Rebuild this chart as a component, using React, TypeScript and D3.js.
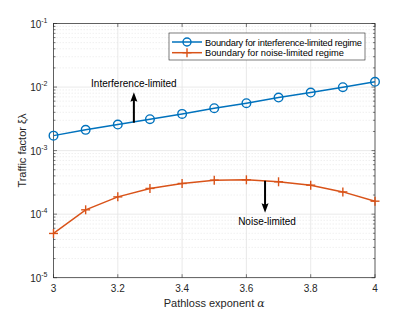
import * as d3 from 'd3';

const alphas = [3, 3.1, 3.2, 3.3, 3.4, 3.5, 3.6, 3.7, 3.8, 3.9, 4];
const interference = [1.72e-3, 2.12e-3, 2.57e-3, 3.12e-3, 3.78e-3, 4.65e-3, 5.57e-3, 6.84e-3, 8.19e-3, 9.96e-3, 1.21e-2];
const noise = [4.97e-5, 1.17e-4, 1.87e-4, 2.54e-4, 3.04e-4, 3.43e-4, 3.47e-4, 3.23e-4, 2.86e-4, 2.24e-4, 1.6e-4];
const xTicks = [3, 3.2, 3.4, 3.6, 3.8, 4];
const yExps = [-5, -4, -3, -2, -1];
const seriesNames = ['Boundary for interference-limited regime', 'Boundary for noise-limited regime'];
const colors = ['#0072BD', '#D95319'];

const W = 415, H = 312;
const left = 53.5, right = 375, top = 23.5, bottom = 277.7;

export default function App() {
  const x = d3.scaleLinear().domain([3, 4]).range([left, right]);
  const y = d3.scaleLog().domain([1e-5, 1e-1]).range([bottom, top]);
  const line = d3.line<number>().x((_, i) => x(alphas[i])).y(d => y(d));

  const minor: number[] = [];
  yExps.slice(0, -1).forEach(e => {
    for (let k = 2; k <= 9; k++) minor.push(k * Math.pow(10, e));
  });
  const font = 'Helvetica, Arial, "Liberation Sans", sans-serif';

  const plus = (cx: number, cy: number, c: string, k: string) => (
    <g key={k} stroke={c} strokeWidth={1.4}>
      <line x1={cx - 4.5} x2={cx + 4.5} y1={cy} y2={cy} />
      <line x1={cx} x2={cx} y1={cy - 4.5} y2={cy + 4.5} />
    </g>
  );

  // vertical arrow from y0 to tip y1
  const arrow = (ax: number, y0: number, y1: number, k: string) => {
    const dir = y1 < y0 ? 1 : -1;
    const base = y1 + dir * 8;
    return (
      <g key={k}>
        <line x1={ax} x2={ax} y1={y0} y2={base - dir * 2} stroke="#000" strokeWidth={2} />
        <path d={`M${ax},${y1} L${ax + 3.5},${base + dir * 1.5} L${ax},${base} L${ax - 3.5},${base + dir * 1.5} Z`} fill="#000" />
      </g>
    );
  };

  return (
    <div style={{ position: 'absolute', left: 0, top: 0 }}>
      <svg width={W} height={H} style={{ display: 'block', background: '#fff' }} fontFamily={font}>
        <rect x={left} y={top} width={right - left} height={bottom - top} fill="#fff" />
        {/* minor grid */}
        {minor.map((v, i) => (
          <line key={'mg' + i} x1={left} x2={right} y1={y(v)} y2={y(v)} stroke="#e6e6e6" strokeWidth={0.6} strokeDasharray="1.5,1.5" />
        ))}
        {/* major grid */}
        {xTicks.map(t => (
          <line key={'gx' + t} x1={x(t)} x2={x(t)} y1={top} y2={bottom} stroke="#e3e3e3" strokeWidth={0.8} />
        ))}
        {yExps.map(e => (
          <line key={'gy' + e} x1={left} x2={right} y1={y(Math.pow(10, e))} y2={y(Math.pow(10, e))} stroke="#e3e3e3" strokeWidth={0.8} />
        ))}
        {/* ticks */}
        {xTicks.map(t => (
          <g key={'tx' + t} stroke="#262626" strokeWidth={0.6}>
            <line x1={x(t)} x2={x(t)} y1={bottom} y2={bottom - 3.5} />
            <line x1={x(t)} x2={x(t)} y1={top} y2={top + 3.5} />
          </g>
        ))}
        {yExps.map(e => (
          <g key={'ty' + e} stroke="#262626" strokeWidth={0.6}>
            <line x1={left} x2={left + 3.5} y1={y(Math.pow(10, e))} y2={y(Math.pow(10, e))} />
            <line x1={right} x2={right - 3.5} y1={y(Math.pow(10, e))} y2={y(Math.pow(10, e))} />
          </g>
        ))}
        {minor.map((v, i) => (
          <g key={'mt' + i} stroke="#262626" strokeWidth={0.6}>
            <line x1={left} x2={left + 2} y1={y(v)} y2={y(v)} />
            <line x1={right} x2={right - 2} y1={y(v)} y2={y(v)} />
          </g>
        ))}
        <rect x={left} y={top} width={right - left} height={bottom - top} fill="none" stroke="#262626" strokeWidth={0.7} />
        {/* tick labels */}
        {xTicks.map(t => (
          <text key={'lx' + t} x={x(t)} y={bottom + 14} textAnchor="middle" fontSize={10} fill="#262626">{d3.format('~g')(t)}</text>
        ))}
        {yExps.map(e => (
          <text key={'ly' + e} x={left - 6} y={y(Math.pow(10, e)) + 4} textAnchor="end" fontSize={10} fill="#262626">
            10<tspan dy={-5} fontSize={7}>{e}</tspan>
          </text>
        ))}
        <text x={(left + right) / 2} y={307} textAnchor="middle" fontSize={11} fill="#262626">
          Pathloss exponent <tspan fontStyle="italic" fontFamily="'DejaVu Serif', serif">α</tspan>
        </text>
        <text transform={`translate(26,${(top + bottom) / 2}) rotate(-90)`} textAnchor="middle" fontSize={11} fill="#262626">
          Traffic factor ξλ
        </text>
        {/* series */}
        <path d={line(interference) || ''} fill="none" stroke={colors[0]} strokeWidth={1.5} />
        {interference.map((v, i) => (
          <circle key={'c' + i} cx={x(alphas[i])} cy={y(v)} r={4.3} fill="none" stroke={colors[0]} strokeWidth={1.4} />
        ))}
        <path d={line(noise) || ''} fill="none" stroke={colors[1]} strokeWidth={1.5} />
        {noise.map((v, i) => plus(x(alphas[i]), y(v), colors[1], 'p' + i))}
        {/* arrows */}
        {arrow(x(3.25), y(2.75e-3), y(8.3e-3), 'a1')}
        <text x={x(3.25)} y={87} textAnchor="middle" fontSize={10} fill="#000">Interference-limited</text>
        {arrow(x(3.658), y(3.35e-4), y(1.05e-4), 'a2')}
        <text x={x(3.658) + 2} y={y(7.8e-5) + 4} textAnchor="middle" fontSize={10} fill="#000">Noise-limited</text>
        {/* legend */}
        <rect x={169} y={33} width={196} height={27} fill="#fff" stroke="#262626" strokeWidth={0.6} />
        {seriesNames.map((n, i) => {
          const ly = 42 + i * 10.7;
          return (
            <g key={'lg' + i}>
              <line x1={172} x2={202} y1={ly} y2={ly} stroke={colors[i]} strokeWidth={1.5} />
              {i === 0
                ? <circle cx={187} cy={ly} r={4} fill="none" stroke={colors[0]} strokeWidth={1.4} />
                : plus(187, ly, colors[1], 'lp')}
              <text x={205} y={ly + 3.5} fontSize={9.3} fill="#000" textLength={i === 0 ? 157 : undefined}>{n}</text>
            </g>
          );
        })}
      </svg>
    </div>
  );
}
